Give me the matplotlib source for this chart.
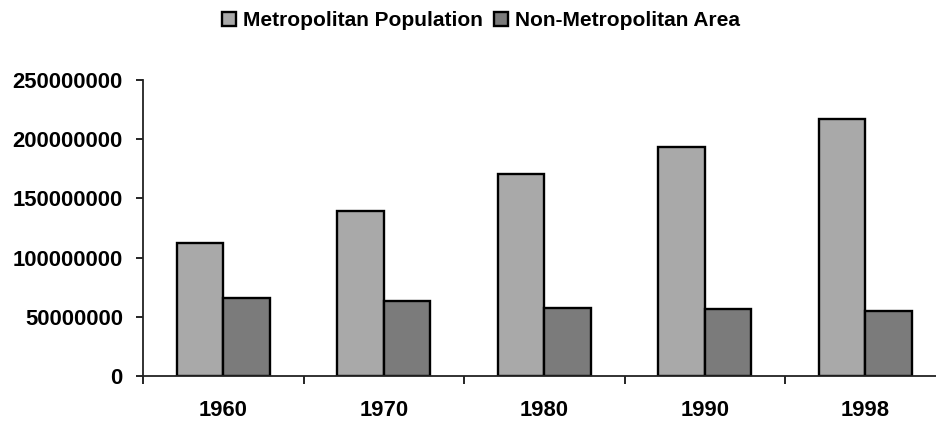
import numpy as np
import matplotlib
matplotlib.use("Agg")
import matplotlib.pyplot as plt
from matplotlib.ticker import FixedLocator

plt.rcParams['font.family'] = ['Liberation Sans', 'DejaVu Sans']
plt.rcParams['font.weight'] = 'bold'

years   = ['1960', '1970', '1980', '1990', '1998']
metro   = np.array([112.6, 139.6, 170.3, 193.7, 217.3]) * 1e6   # people
nonmetro = np.array([65.9, 63.6, 57.2, 56.3, 54.9]) * 1e6       # people
yticks  = [0, 50000000, 100000000, 150000000, 200000000, 250000000]

c_metro = '#a9a9a9'
c_non   = '#7b7b7b'
w = 0.29

fig = plt.figure(figsize=(9.37, 4.21), dpi=100)
ax = fig.add_axes([143/937., 45/421., 1 - 143/937., 296/421.])

x = np.arange(len(years))
b1 = ax.bar(x - w/2, metro, w, color=c_metro, edgecolor='black', linewidth=1.7,
            label='Metropolitan Population')
b2 = ax.bar(x + w/2, nonmetro, w, color=c_non, edgecolor='black', linewidth=1.7,
            label='Non-Metropolitan Area')

ax.set_xlim(-0.5, 4.447)
ax.set_ylim(0, 250000000)

ax.spines['top'].set_visible(False)
ax.spines['right'].set_visible(False)
ax.spines['left'].set_linewidth(1.3)
ax.spines['bottom'].set_linewidth(1.3)
ax.spines['left'].set_color('#222222')
ax.spines['bottom'].set_color('#222222')

ax.set_yticks(yticks)
ax.set_yticklabels([str(v) for v in yticks])
ax.tick_params(axis='y', length=5, width=1.2, pad=9.5, labelsize=15.8)

# category boundaries get ticks, labels sit in the middle
ax.xaxis.set_major_locator(FixedLocator(np.arange(-0.5, 5, 1.0)))
ax.xaxis.set_minor_locator(FixedLocator(x))
ax.set_xticklabels([], minor=False)
ax.set_xticklabels(years, minor=True)
ax.tick_params(axis='x', which='major', length=6, width=1.2)
ax.tick_params(axis='x', which='minor', length=0, pad=17, labelsize=15.8)

for t in ax.get_yticklabels() + ax.get_xticklabels(minor=True):
    t.set_fontweight('bold')

fig.legend(handles=[b1, b2], loc='center', bbox_to_anchor=(0.513, 0.951), ncol=2,
           frameon=False, fontsize=15, handlelength=0.7, handleheight=0.7,
           handletextpad=0.3, columnspacing=0.55, borderpad=0)

fig.savefig('out.png', dpi=100)
